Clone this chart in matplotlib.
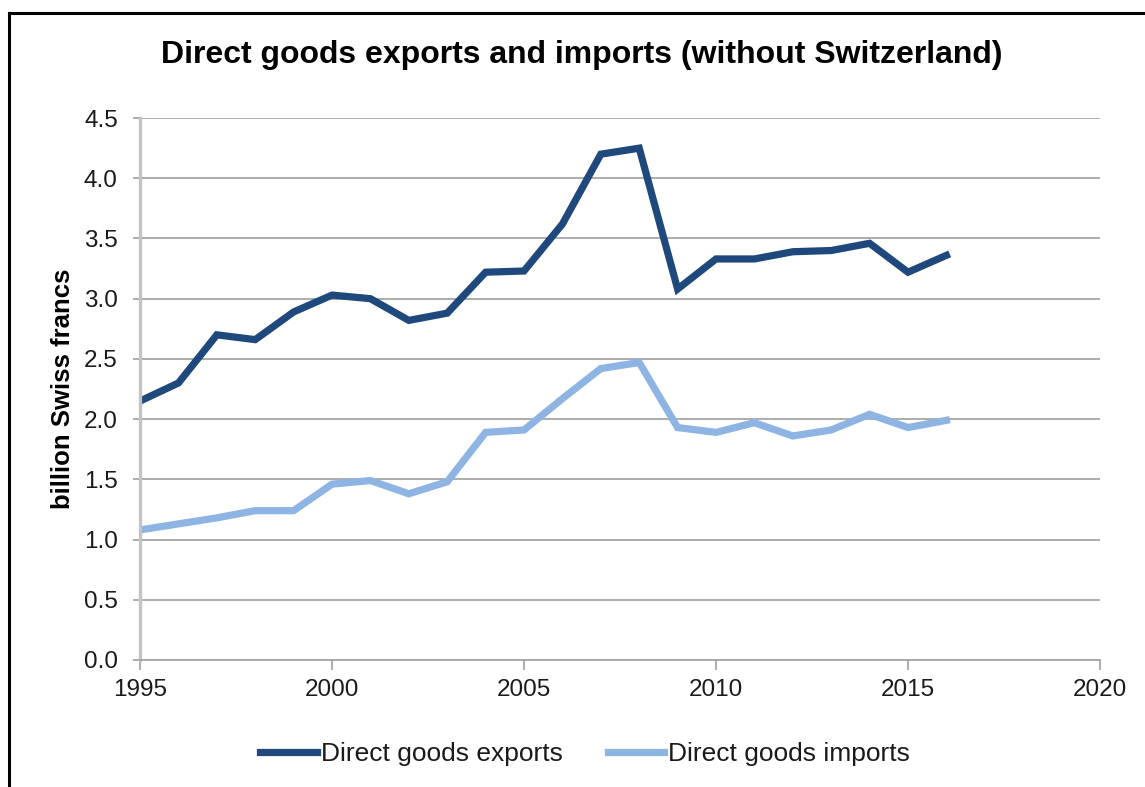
import matplotlib.pyplot as plt
from matplotlib.lines import Line2D
from matplotlib.ticker import FormatStrFormatter

plt.rcParams["font.family"] = ["Liberation Sans", "DejaVu Sans"]

years = list(range(1995, 2017))
exports = [2.15, 2.30, 2.70, 2.66, 2.89, 3.03, 3.00, 2.82, 2.88, 3.22, 3.23,
           3.62, 4.20, 4.25, 3.08, 3.33, 3.33, 3.39, 3.40, 3.46, 3.22, 3.36]
imports = [1.08, 1.13, 1.18, 1.24, 1.24, 1.46, 1.49, 1.38, 1.48, 1.89, 1.91,
           2.17, 2.42, 2.47, 1.93, 1.89, 1.97, 1.86, 1.91, 2.04, 1.93, 1.99]

x_ticks = [1995, 2000, 2005, 2010, 2015, 2020]
y_ticks = [0.0, 0.5, 1.0, 1.5, 2.0, 2.5, 3.0, 3.5, 4.0, 4.5]

dark = "#1f497d"
light = "#8db4e2"
grid_col = "#a6a6a6"
text_col = "#1a1a1a"

fig = plt.figure(figsize=(11.45, 7.87), dpi=100)
ax = fig.add_axes([0.1223, 0.1614, 0.8384, 0.6886])

ax.plot(years, exports, color=dark, lw=5.2, solid_joinstyle="miter",
        label="Direct goods exports")
ax.plot(years, imports, color=light, lw=5.2, solid_joinstyle="miter",
        label="Direct goods imports")

ax.set_xlim(1995, 2020)
ax.set_ylim(0, 4.5)
ax.set_xticks(x_ticks)
ax.set_yticks(y_ticks)
ax.yaxis.set_major_formatter(FormatStrFormatter("%.1f"))
ax.grid(axis="y", color=grid_col, lw=1.3)
ax.set_axisbelow(True)

for side in ("top", "right"):
    ax.spines[side].set_visible(False)
ax.spines["left"].set_color("#c4c4c4")
ax.spines["left"].set_linewidth(2.4)
ax.spines["bottom"].set_color(grid_col)
ax.spines["bottom"].set_linewidth(1.3)

ax.tick_params(axis="y", length=5, width=1.3, color=grid_col, pad=11,
               labelsize=17.5, labelcolor=text_col)
ax.tick_params(axis="x", length=7, width=1.3, color=grid_col, pad=7,
               labelsize=17.5, labelcolor=text_col)

ax.set_ylabel("billion Swiss francs", fontsize=18.5, fontweight="bold",
              color="black")
ax.yaxis.set_label_coords(-0.068, 0.5)

fig.text(0.508, 0.93, "Direct goods exports and imports (without Switzerland)",
         ha="center", va="center", fontsize=23, fontweight="bold", color="black")

leg = fig.legend(loc="center", bbox_to_anchor=(0.511, 0.042), ncol=2,
                 frameon=False, fontsize=19, handlelength=2.15,
                 handletextpad=0.15, columnspacing=1.7)
for t in leg.get_texts():
    t.set_color(text_col)

# frame drawn round the figure (left and top edges)
fig.add_artist(Line2D([0.0079, 0.0079], [0.0, 0.9835], transform=fig.transFigure,
                      color="black", lw=2.2))
fig.add_artist(Line2D([0.0079, 1.0], [0.9835, 0.9835], transform=fig.transFigure,
                      color="black", lw=2.2))

fig.savefig("out.png", dpi=100)
